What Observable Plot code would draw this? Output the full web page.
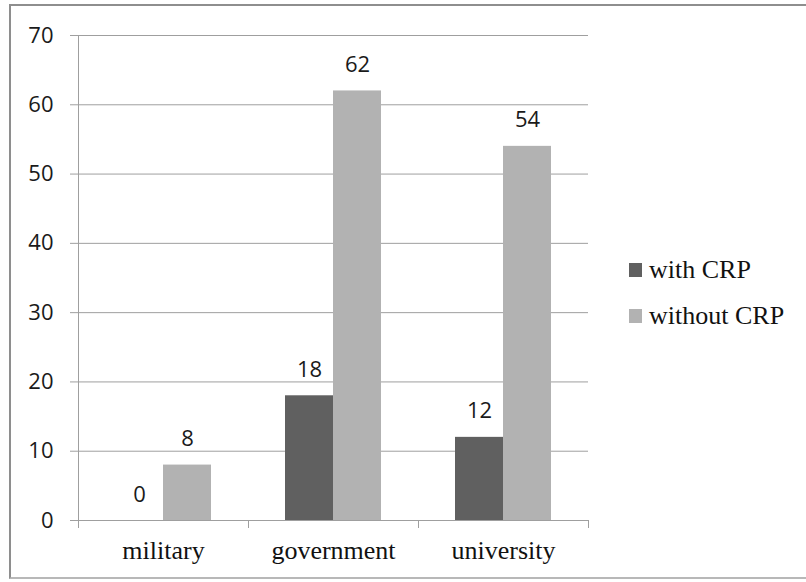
<!DOCTYPE html>
<html>
<head>
<meta charset="utf-8">
<script src="https://cdn.jsdelivr.net/npm/d3@7"></script>
<script src="https://cdn.jsdelivr.net/npm/@observablehq/plot@0.6"></script>
<style>
  html, body { margin: 0; padding: 0; background: #fff; }
  #wrap { position: relative; width: 806px; height: 582px; overflow: hidden; }
  #frame { position: absolute; left: 9px; top: 4px; width: 820px; height: 575px; border: 2px solid #8e8e8e; box-sizing: border-box; border-bottom-color: #b8b8b8; }
  #chart { position: absolute; left: 0; top: 0; }
  #legend { position: absolute; left: 629px; top: 0; font-family: "Liberation Serif", "Times New Roman", serif; font-size: 26px; color: #111; }
  .item { position: absolute; left: 0; white-space: nowrap; display: flex; align-items: center; height: 28px; }
  .sw { width: 13px; height: 14px; margin-right: 7px; }
</style>
</head>
<body>
<div id="wrap">
  <div id="frame"></div>
  <div id="chart"></div>
  <div id="legend"></div>
</div>
<script>
const categories = ["military", "government", "university"];
const seriesNames = ["with CRP", "without CRP"];
const withCRP = [0, 18, 12];
const withoutCRP = [8, 62, 54];
const yTicks = [0, 10, 20, 30, 40, 50, 60, 70];
const seriesColors = ["#606060", "#b2b2b2"];

const rowsWith = categories.map((c, i) => ({category: c, series: seriesNames[0], value: withCRP[i]}));
const rowsWithout = categories.map((c, i) => ({category: c, series: seriesNames[1], value: withoutCRP[i]}));

const gridColor = "#9f9f9f";
const numFont = "Open Sans";
const serifFont = "Liberation Serif";

const chart = Plot.plot({
  width: 806,
  height: 582,
  marginLeft: 78,
  marginRight: 218,
  marginTop: 35,
  marginBottom: 62,
  style: {background: "transparent", color: "#111"},
  x: {domain: categories, padding: 0, axis: null},
  y: {domain: [0, 70], axis: null},
  marks: [
    Plot.gridY(yTicks, {stroke: gridColor, strokeOpacity: 1}),
    Plot.ruleX([categories[0]], {dx: -85, stroke: gridColor}),
    Plot.ruleX(categories, {dx: -85, y1: 0, y2: 0, insetBottom: -8, stroke: gridColor}),
    Plot.ruleX([categories[categories.length - 1]], {dx: 85, y1: 0, y2: 0, insetBottom: -8, stroke: gridColor}),
    Plot.axisY(yTicks, {tickSize: 8, tickPadding: 17, stroke: gridColor, fill: "#1a1a1a", fontSize: 22, fontFamily: numFont, label: null}),
    Plot.barY(rowsWith, {x: "category", y: "value", fill: seriesColors[0], insetLeft: 37, insetRight: 85}),
    Plot.barY(rowsWithout, {x: "category", y: "value", fill: seriesColors[1], insetLeft: 85, insetRight: 37}),
    Plot.text(rowsWith, {x: "category", y: "value", text: d => String(d.value), dx: -24, dy: -26, fontSize: 22, fontFamily: numFont, fill: "#1a1a1a"}),
    Plot.text(rowsWithout, {x: "category", y: "value", text: d => String(d.value), dx: 24, dy: -26, fontSize: 22, fontFamily: numFont, fill: "#1a1a1a"}),
    Plot.axisX({tickSize: 0, tickPadding: 20, fill: "#111", fontSize: 26, fontFamily: serifFont, label: null})
  ]
});
document.getElementById("chart").appendChild(chart);

const legend = document.getElementById("legend");
const legendTops = [256, 302];
seriesNames.forEach((name, i) => {
  const item = document.createElement("div");
  item.className = "item";
  item.style.top = legendTops[i] + "px";
  const sw = document.createElement("span");
  sw.className = "sw";
  sw.style.background = seriesColors[i];
  const label = document.createElement("span");
  label.textContent = name;
  item.appendChild(sw);
  item.appendChild(label);
  legend.appendChild(item);
});
</script>
</body>
</html>
